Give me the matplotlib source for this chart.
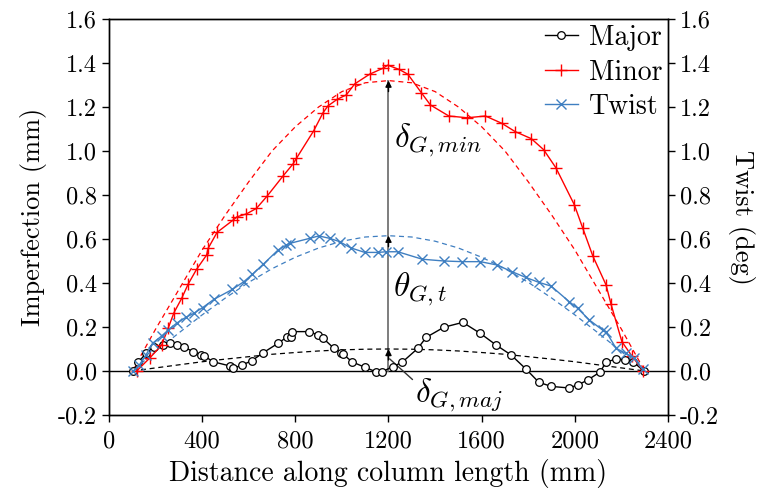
import matplotlib
matplotlib.use("Agg")
import matplotlib.pyplot as plt
import numpy as np

plt.rcParams['font.family'] = 'serif'
plt.rcParams['font.serif'] = ['cmr10']
plt.rcParams['mathtext.fontset'] = 'cm'
plt.rcParams['axes.formatter.use_mathtext'] = True
plt.rcParams['axes.unicode_minus'] = False

# Dane
major_x = [104, 126, 159, 194, 233, 262, 290, 323, 359, 397, 407, 447, 519, 533, 571, 614, 662,
           726, 766, 783, 787, 859, 897, 919, 966, 998, 1005, 1043, 1098, 1145, 1173, 1219, 1259,
           1326, 1362, 1438, 1519, 1594, 1662, 1726, 1791, 1845, 1898, 1973, 2012, 2055, 2108,
           2134, 2177, 2214, 2250, 2296]
major_y = [0.0, 0.04, 0.08, 0.11, 0.12, 0.126, 0.12, 0.11, 0.088, 0.073, 0.07, 0.042, 0.023, 0.012,
           0.027, 0.047, 0.083, 0.126, 0.156, 0.156, 0.179, 0.179, 0.164, 0.149, 0.103, 0.083, 0.077,
           0.042, 0.017, -0.003, -0.003, 0.02, 0.04, 0.103, 0.153, 0.199, 0.221, 0.171, 0.118, 0.073,
           0.008, -0.051, -0.07, -0.077, -0.064, -0.041, -0.005, 0.04, 0.055, 0.052, 0.042, 0.0]

minor_x = [119, 176, 226, 254, 279, 312, 340, 376, 419, 426, 464, 533, 550, 590, 633, 679, 747, 790,
           805, 879, 919, 940, 980, 1019, 1055, 1119, 1176, 1197, 1245, 1283, 1341, 1380, 1459, 1538,
           1616, 1686, 1744, 1813, 1866, 1919, 1998, 2034, 2077, 2134, 2155, 2202, 2245, 2294]
minor_y = [0.0, 0.06, 0.118, 0.194, 0.265, 0.33, 0.395, 0.462, 0.527, 0.558, 0.63, 0.686, 0.701,
           0.714, 0.739, 0.795, 0.886, 0.941, 0.967, 1.092, 1.174, 1.205, 1.235, 1.255, 1.305, 1.349,
           1.376, 1.39, 1.371, 1.349, 1.265, 1.209, 1.159, 1.151, 1.159, 1.126, 1.088, 1.056, 1.006,
           0.923, 0.755, 0.649, 0.523, 0.391, 0.305, 0.133, 0.068, 0.0]

twist_x = [104, 130, 159, 187, 226, 254, 290, 330, 364, 402, 451, 530, 579, 616, 662, 726, 762, 776,
           862, 901, 947, 990, 1037, 1098, 1155, 1190, 1240, 1345, 1438, 1516, 1594, 1665, 1731, 1790,
           1845, 1898, 1976, 2012, 2062, 2119, 2134, 2177, 2219, 2255, 2291]
twist_y = [0.0, 0.027, 0.073, 0.126, 0.159, 0.186, 0.217, 0.244, 0.262, 0.288, 0.326, 0.371, 0.406,
           0.44, 0.485, 0.55, 0.573, 0.58, 0.603, 0.614, 0.603, 0.588, 0.56, 0.539, 0.539, 0.542,
           0.542, 0.508, 0.5, 0.497, 0.497, 0.482, 0.451, 0.425, 0.403, 0.386, 0.315, 0.285, 0.232,
           0.186, 0.179, 0.103, 0.08, 0.058, 0.008]

# Krzywe dopasowania (linie przerywane)
fit_x = [100, 200, 300, 400, 500, 600, 700, 800, 900, 1000, 1100, 1200,
         1300, 1400, 1500, 1600, 1700, 1800, 1900, 2000, 2100, 2200, 2300]
fit_minor = [0, 0.19, 0.37, 0.55, 0.71, 0.86, 1.00, 1.11, 1.20, 1.27, 1.31, 1.32,
             1.31, 1.27, 1.20, 1.11, 1.00, 0.86, 0.71, 0.55, 0.37, 0.19, 0]
fit_twist = [0, 0.088, 0.173, 0.255, 0.332, 0.403, 0.465, 0.517, 0.559, 0.590, 0.609, 0.615,
             0.609, 0.590, 0.559, 0.517, 0.465, 0.403, 0.332, 0.255, 0.173, 0.088, 0]
fit_major = [0, 0.014, 0.028, 0.042, 0.054, 0.065, 0.076, 0.084, 0.091, 0.096, 0.099, 0.1,
             0.099, 0.096, 0.091, 0.084, 0.076, 0.065, 0.054, 0.042, 0.028, 0.014, 0]

arrow_x = 1200
arrow_tops = [0.1, 0.615, 1.32]

blue = '#3f7fc1'
red = '#ff0000'

fig, ax = plt.subplots(figsize=(7.69, 4.97), dpi=100)
fig.subplots_adjust(left=0.1417, right=0.8687, top=0.9618, bottom=0.165)
ax2 = ax.twinx()

ax.axhline(0, color='black', lw=1.0, zorder=1)

# strzałki
ax.plot([arrow_x, arrow_x], [0, arrow_tops[-1]], color='0.45', lw=1.3, zorder=2)
for yt in arrow_tops:
    ax.annotate('', xy=(arrow_x, yt), xytext=(arrow_x, yt - 0.05),
                arrowprops=dict(arrowstyle='-|>', color='black', lw=1.0,
                                shrinkA=0, shrinkB=0, mutation_scale=9), zorder=3)

dash = (0, (4, 3))
ax.plot(fit_x, fit_major, color='black', lw=0.9, ls=dash, zorder=2)
ax.plot(fit_x, fit_minor, color=red, lw=0.9, ls=dash, zorder=2)
ax.plot(fit_x, fit_twist, color=blue, lw=0.9, ls=dash, zorder=2)

l1, = ax.plot(major_x, major_y, color='black', lw=1.0, marker='o', ms=5.5,
              mfc='white', mec='black', mew=0.9, label='Major', zorder=4)
l2, = ax.plot(minor_x, minor_y, color=red, lw=1.0, marker='+', ms=8,
              mew=1.0, label='Minor', zorder=4)
l3, = ax2.plot(twist_x, twist_y, color=blue, lw=1.0, marker='x', ms=6.5,
               mew=1.0, label='Twist', zorder=4)

ax.text(1225, 1.05, r'$\delta_{G,min}$', fontsize=24, ha='left', va='center')
ax.text(1218, 0.37, r'$\theta_{G,t}$', fontsize=24, ha='left', va='center')
ax.annotate(r'$\delta_{G,maj}$', xy=(1205, 0.055), xytext=(1315, -0.11),
            fontsize=24, ha='left', va='center',
            arrowprops=dict(arrowstyle='-', color='0.2', lw=1.0, shrinkA=0, shrinkB=0,
                            relpos=(0.0, 0.85)))

for a in (ax, ax2):
    a.set_xlim(0, 2400)
    a.set_ylim(-0.2, 1.6)
    a.set_yticks(np.arange(-0.2, 1.61, 0.2))
    a.set_yticklabels(['%.1f' % v for v in np.arange(-0.2, 1.61, 0.2)])
    a.tick_params(direction='out', length=5, width=1, labelsize=17.5)
    for s in a.spines.values():
        s.set_linewidth(1.0)

ax.tick_params(axis='x', pad=6)
ax.set_xticks(np.arange(0, 2401, 400))
ax.set_xticklabels([str(v) for v in range(0, 2401, 400)])
ax.set_xlabel('Distance along column length (mm)', fontsize=20, labelpad=5)
ax.set_ylabel('Imperfection (mm)', fontsize=19, labelpad=8)
ax2.set_ylabel('Twist (deg)', fontsize=19, rotation=270, labelpad=26)

ax2.legend([l1, l2, l3], ['Major', 'Minor', 'Twist'], loc='upper right', frameon=False,
           fontsize=20, handlelength=1.2, handletextpad=0.4, labelspacing=0.3,
           borderaxespad=0.0, borderpad=0.2)

fig.savefig('out.png', dpi=100)
